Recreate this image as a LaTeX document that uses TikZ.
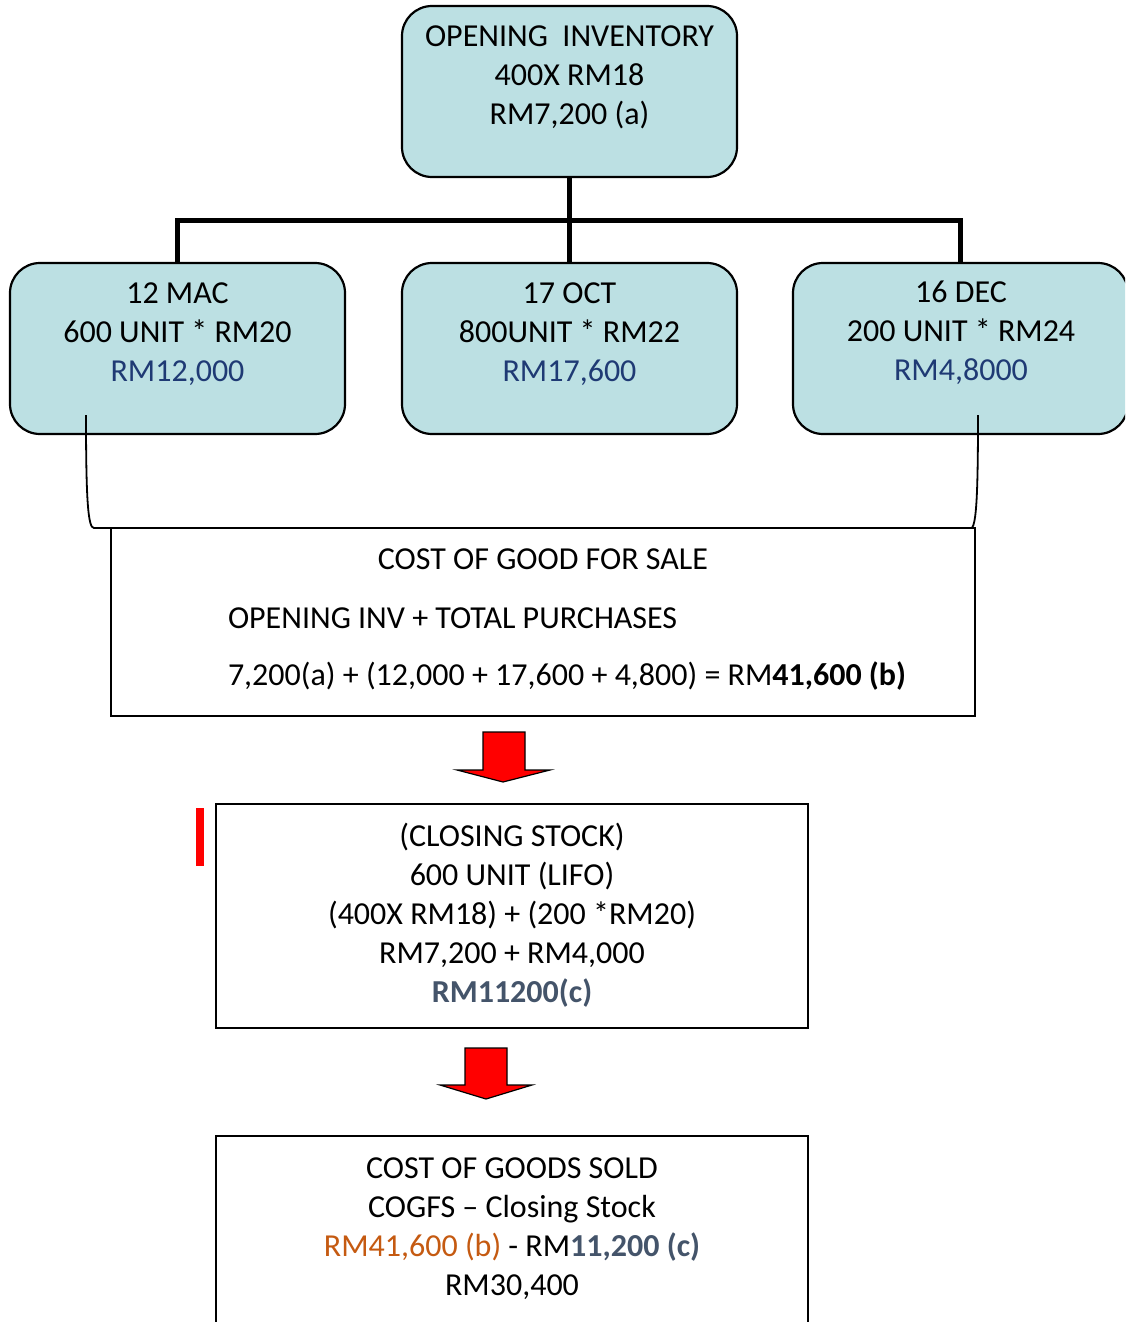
\documentclass[tikz,border=0pt]{standalone}
\usepackage{fontspec}
\setmainfont{Carlito}
\begin{document}
\begin{tikzpicture}[x=0.5pt,y=-0.5pt,
  every node/.style={inner sep=0pt, outer sep=0pt},
  purchase/.style={draw=black, line width=1.1pt, fill=boxfill, rounded corners=15pt,
    minimum width=167.5pt, minimum height=85.5pt},
  plainbox/.style={draw=black, line width=0.9pt, fill=white},
  txt/.style={font=\fontsize{16}{19.5}\selectfont, align=center},
  bus/.style={line width=2.5pt},
  bracket/.style={line width=0.9pt},
  redarrow/.style={fill=red, draw=black, line width=0.6pt, line join=miter}
]
\definecolor{boxfill}{HTML}{BCE0E3}
\definecolor{navy}{HTML}{1F3A74}
\definecolor{slate}{HTML}{44546A}
\definecolor{rust}{HTML}{C55A11}

\useasboundingbox (0,0) rectangle (1125,1322);
\clip (0,0) rectangle (1125,1322);

% opening inventory and the three purchases
\node[purchase] (top)   at (569.5,91.5) {};
\node[purchase] (left)  at (177.5,348.5) {};
\node[purchase] (mid)   at (569.5,348.5) {};
\node[purchase] (right) at (960.5,348.5) {};

\node[txt] (toptxt) at (569.5,77.5) {OPENING\ \ INVENTORY\\400X RM18\\RM7,200 (a)};
\node[txt] (lefttxt) at (177.5,334.5) {12 MAC\\600 UNIT * RM20\\\textcolor{navy}{RM12,000}};
\node[txt] (midtxt) at (569.5,334.5) {17 OCT\\800UNIT * RM22\\\textcolor{navy}{RM17,600}};
\node[txt] (righttxt) at (961,333) {16 DEC\\200 UNIT * RM24\\\textcolor{navy}{RM4,8000}};

% tree connector
\coordinate (busmid) at (569.5,220);
\draw[bus] (top.south) -- (busmid);
\draw[bus] (left.north) |- (busmid) -| (right.north);
\draw[bus] (busmid) -- (mid.north);

% cost of goods for sale
\node[plainbox, minimum width=432pt, minimum height=94pt] (cogfs) at (543,622) {};
\node[txt] (cogfsa) at (543,559.5) {COST OF GOOD FOR SALE};
\node[txt, anchor=west] (cogfsb) at (228,618.5) {OPENING INV + TOTAL PURCHASES};
\node[txt, anchor=west] (cogfsc) at (228,676.5) {7,200(a) + (12,000 + 17,600 + 4,800) = RM\textbf{41,600 (b)}};

% brackets from the first and last purchase
\coordinate (lb) at (86,415);
\coordinate (rb) at (978,415);
\draw[bracket] (lb) .. controls (86,500) and (88,528) .. (94,528) -- (cogfs.north west);
\draw[bracket] (rb) .. controls (978,500) and (976,522) .. (972,528) -- (cogfs.north east);

% arrow down to closing stock
\draw[redarrow] (483,732) -- (525,732) -- (525,770) -- (550,770) -- (503,782)
  -- (457,770) -- (483,770) -- cycle;

% closing stock
\fill[red] (196,808) rectangle (204,866);
\node[plainbox, minimum width=296pt, minimum height=112pt] (closing) at (512,916) {};
\node[txt] (closingtxt) at (512,915.5) {(CLOSING STOCK)\\600 UNIT (LIFO)\\(400X RM18) + (200 *RM20)\\RM7,200 + RM4,000\\\textcolor{slate}{\textbf{RM11200(c)}}};

% arrow down to cost of goods sold
\draw[redarrow] (465,1048) -- (507,1048) -- (507,1085) -- (532,1085) -- (486,1099)
  -- (440,1085) -- (465,1085) -- cycle;

% cost of goods sold
\node[plainbox, minimum width=296pt, minimum height=110pt] (cogs) at (512,1246) {};
\node[txt] (cogstxt) at (512,1228.5) {COST OF GOODS SOLD\\COGFS -- Closing Stock\\\textcolor{rust}{RM41,600 (b)} - RM\textcolor{slate}{\textbf{11,200 (c)}}\\RM30,400};
\end{tikzpicture}
\end{document}
